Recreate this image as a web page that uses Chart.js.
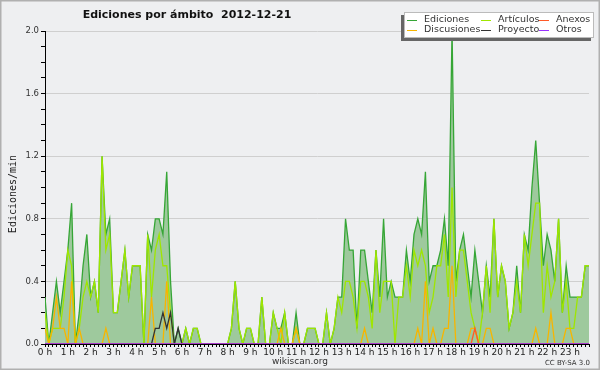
<!DOCTYPE html>
<html>
<head>
<meta charset="utf-8">
<script src="https://cdn.jsdelivr.net/npm/chart.js@4/dist/chart.umd.min.js"></script>
<style>
html,body{margin:0;padding:0;background:#eeeff1;}
canvas{display:block;}
</style>
</head>
<body>
<canvas id="c" width="600" height="370"></canvas>
<script>
// 10-minute slots, 0 h .. 23 h 50
const slotsPerHour = 6;
const seriesNames = ["Ediciones", "Artículos", "Anexos", "Discusiones", "Proyecto", "Otros"];
const yTickLabels = ["0.0", "0.4", "0.8", "1.2", "1.6", "2.0"];

const ediciones = [
  0.3,0.0,0.2,0.4,0.2,0.4, 0.6,0.9,0.0,0.2,0.5,0.7, 0.3,0.4,0.2,1.2,0.7,0.8,
  0.2,0.2,0.4,0.6,0.3,0.5, 0.5,0.5,0.0,0.7,0.6,0.8, 0.8,0.7,1.1,0.4,0.0,0.1,
  0.0,0.1,0.0,0.1,0.1,0.0, 0.0,0.0,0.0,0.0,0.0,0.0, 0.0,0.1,0.4,0.1,0.0,0.1,
  0.1,0.0,0.0,0.3,0.0,0.0, 0.2,0.1,0.1,0.2,0.0,0.0, 0.2,0.0,0.0,0.1,0.1,0.1,
  0.0,0.0,0.2,0.0,0.1,0.3, 0.3,0.8,0.6,0.6,0.1,0.6, 0.6,0.4,0.2,0.6,0.3,0.8,
  0.3,0.4,0.3,0.3,0.3,0.6, 0.4,0.7,0.8,0.7,1.1,0.4, 0.5,0.5,0.6,0.8,0.5,2.0,
  0.4,0.6,0.7,0.5,0.3,0.6, 0.4,0.2,0.5,0.3,0.8,0.3, 0.5,0.4,0.1,0.2,0.5,0.2,
  0.7,0.6,1.0,1.3,0.9,0.5, 0.7,0.6,0.4,0.8,0.2,0.5, 0.3,0.3,0.3,0.3,0.5,0.5
];
const articulos = [
  0.2,0.0,0.1,0.1,0.1,0.3, 0.6,0.5,0.0,0.1,0.3,0.4, 0.3,0.4,0.2,1.2,0.6,0.7,
  0.2,0.2,0.4,0.6,0.3,0.5, 0.5,0.5,0.0,0.7,0.3,0.6, 0.7,0.5,0.5,0.2,0.0,0.0,
  0.0,0.1,0.0,0.1,0.1,0.0, 0.0,0.0,0.0,0.0,0.0,0.0, 0.0,0.1,0.4,0.1,0.0,0.1,
  0.1,0.0,0.0,0.3,0.0,0.0, 0.2,0.1,0.0,0.2,0.0,0.0, 0.1,0.0,0.0,0.1,0.1,0.1,
  0.0,0.0,0.2,0.0,0.1,0.3, 0.2,0.4,0.4,0.3,0.1,0.4, 0.4,0.3,0.1,0.6,0.2,0.4,
  0.4,0.4,0.0,0.3,0.3,0.5, 0.3,0.6,0.5,0.6,0.5,0.2, 0.3,0.5,0.5,0.7,0.3,1.0,
  0.3,0.6,0.6,0.4,0.2,0.1, 0.0,0.2,0.5,0.2,0.8,0.3, 0.5,0.4,0.1,0.2,0.4,0.2,
  0.7,0.5,0.7,0.9,0.9,0.2, 0.5,0.3,0.4,0.8,0.2,0.4, 0.1,0.1,0.3,0.3,0.5,0.5
];
const anexos = [
  0,0,0,0,0,0, 0,0,0,0,0,0, 0,0,0,0,0,0,
  0,0,0,0,0,0, 0,0,0,0,0,0, 0,0,0,0,0,0,
  0,0,0,0,0,0, 0,0,0,0,0,0, 0,0,0,0,0,0,
  0,0,0,0,0,0, 0,0,0,0,0,0, 0,0,0,0,0,0,
  0,0,0,0,0,0, 0,0,0,0,0,0, 0,0,0,0,0,0,
  0,0,0,0,0,0, 0,0,0,0,0,0, 0,0,0,0,0,0,
  0,0,0,0,0,0.1, 0,0,0,0,0,0, 0,0,0,0,0,0,
  0,0,0,0,0,0, 0,0,0,0,0,0, 0,0,0,0,0,0
];
const discusiones = [
  0.1,0.0,0.1,0.3,0.1,0.1, 0.0,0.4,0.0,0.1,0.0,0.0, 0.0,0.0,0.0,0.0,0.1,0.0,
  0,0,0,0,0,0, 0,0,0,0,0.3,0, 0,0,0.4,0,0,0,
  0,0,0,0,0,0, 0,0,0,0,0,0, 0,0,0,0,0,0,
  0,0,0,0,0,0, 0,0,0.1,0,0,0, 0.1,0,0,0,0,0,
  0,0,0,0,0,0, 0,0,0,0,0,0, 0.1,0,0,0,0,0,
  0,0,0,0,0,0, 0,0,0.1,0,0.4,0, 0.1,0,0,0.1,0.1,0.5,
  0,0,0,0,0.1,0.1, 0,0,0.1,0.1,0,0, 0,0,0,0,0,0,
  0,0,0,0.1,0,0, 0,0.2,0,0,0,0.1, 0.1,0,0,0,0,0
];
const proyecto = [
  0,0,0,0,0,0, 0,0,0,0,0,0, 0,0,0,0,0,0,
  0,0,0,0,0,0, 0,0,0,0,0,0.1, 0.1,0.2,0.1,0.2,0,0.1,
  0,0,0,0,0,0, 0,0,0,0,0,0, 0,0,0,0,0,0,
  0,0,0,0,0,0, 0,0,0,0,0,0, 0,0,0,0,0,0,
  0,0,0,0,0,0, 0,0,0,0,0,0, 0,0,0,0,0,0,
  0,0,0,0,0,0, 0,0,0,0,0,0, 0,0,0,0,0,0,
  0,0,0,0,0,0, 0,0,0,0,0,0, 0,0,0,0,0,0,
  0,0,0,0,0,0, 0,0,0,0,0,0, 0,0,0,0,0,0
];
const otros = [
  0,0,0,0,0,0, 0,0,0,0,0,0, 0,0,0,0,0,0,
  0,0,0,0,0,0, 0,0,0,0,0,0, 0,0,0,0,0,0,
  0,0,0,0,0,0, 0,0,0,0,0,0, 0,0,0,0,0,0,
  0,0,0,0,0,0, 0,0,0,0,0,0, 0,0,0,0,0,0,
  0,0,0,0,0,0, 0,0,0,0,0,0, 0,0,0,0,0,0,
  0,0,0,0,0,0, 0,0,0,0,0,0, 0,0,0,0,0,0,
  0,0,0,0,0,0, 0,0,0,0,0,0, 0,0,0,0,0,0,
  0,0,0,0,0,0, 0,0,0,0,0,0, 0,0,0,0,0,0
];

const BG = '#eeeff1';
const toPts = arr => arr.map((v, i) => ({x: i, y: v}));

function ds(label, data, color, order, extra) {
  return Object.assign({
    label, data: toPts(data), borderColor: color, backgroundColor: color,
    borderWidth: 1.3, pointRadius: 0, tension: 0, fill: false, order
  }, extra || {});
}

const datasets = [
  ds(seriesNames[0], ediciones, '#36a636', 6, {fill: 'origin', backgroundColor: '#9ec99d'}),
  ds(seriesNames[1], articulos, '#9fe600', 5),
  ds(seriesNames[2], anexos, '#ff5a28', 2),
  ds(seriesNames[3], discusiones, '#f7b500', 4),
  ds(seriesNames[4], proyecto, '#333333', 3),
  ds(seriesNames[5], otros, '#9933ff', 1)
];

const decor = {
  id: 'decor',
  beforeDraw(chart) {
    const c = chart.ctx;
    c.save();
    c.fillStyle = BG;
    c.fillRect(0, 0, chart.width, chart.height);
    c.restore();
  },
  afterDraw(chart) {
    const c = chart.ctx;
    c.save();
    // frame
    c.strokeStyle = '#b0b0b0';
    c.lineWidth = 1.5;
    c.strokeRect(0.75, 0.75, chart.width - 1.5, chart.height - 1.5);
    // title
    c.fillStyle = '#111';
    c.font = 'bold 11px "DejaVu Sans"';
    c.textAlign = 'center';
    c.textBaseline = 'alphabetic';
    c.fillText('Ediciones por ámbito  2012-12-21', 187, 18);
    // y title
    c.save();
    c.translate(13, 194);
    c.rotate(-Math.PI / 2);
    c.font = '10px "DejaVu Sans Mono"';
    c.fillStyle = '#222';
    c.textAlign = 'center';
    c.textBaseline = 'middle';
    c.fillText('Ediciones/min', 0, 0);
    c.restore();
    // footer
    c.font = '9px "DejaVu Sans"';
    c.fillStyle = '#333';
    c.textAlign = 'center';
    c.fillText('wikiscan.org', 300, 364);
    c.font = '7px "DejaVu Sans"';
    c.textAlign = 'right';
    c.fillText('CC BY-SA 3.0', 590, 365);
    // legend
    const bx = 404, by = 12, bw = 190, bh = 26;
    c.fillStyle = '#666';
    c.fillRect(bx - 3, by + 3, bw, bh);
    c.fillStyle = '#ffffff';
    c.fillRect(bx, by, bw, bh);
    c.strokeStyle = '#bbbbbb';
    c.lineWidth = 1;
    c.strokeRect(bx + 0.5, by + 0.5, bw - 1, bh - 1);
    const colX = [407, 481, 539];
    const rowY = [19.5, 30];
    c.font = '9.5px "DejaVu Sans"';
    c.textAlign = 'left';
    c.textBaseline = 'middle';
    chart.data.datasets.forEach((d, i) => {
      const col = i % 3, row = Math.floor(i / 3);
      const x = colX[col], y = rowY[row];
      c.strokeStyle = d.borderColor;
      c.lineWidth = 1;
      c.beginPath();
      c.moveTo(x, Math.round(y) + 0.5);
      c.lineTo(x + 10, Math.round(y) + 0.5);
      c.stroke();
      c.fillStyle = '#333';
      c.fillText(d.label, x + 17, y);
    });
    c.restore();
  }
};

new Chart(document.getElementById('c'), {
  type: 'line',
  data: {datasets},
  options: {
    responsive: false,
    devicePixelRatio: 1,
    animation: false,
    layout: {padding: {left: 0, top: 31, right: 11, bottom: 0}},
    plugins: {legend: {display: false}, tooltip: {enabled: false}, title: {display: false}},
    scales: {
      x: {
        type: 'linear', min: 0, max: 143, z: 1,
        afterFit(s) { s.height = 26; },
        border: {display: true, color: '#000', width: 1},
        grid: {drawOnChartArea: false, drawTicks: true, tickLength: 3, color: '#000', tickWidth: 1},
        ticks: {
          stepSize: 1, autoSkip: false, maxRotation: 0, minRotation: 0, padding: 0,
          color: '#222', font: {family: 'DejaVu Sans', size: 9},
          callback: v => (v % slotsPerHour === 0 ? (v / slotsPerHour) + ' h' : '')
        }
      },
      y: {
        type: 'linear', min: 0, max: 2, z: 1,
        afterFit(s) { s.width = 45; },
        border: {display: true, color: '#000', width: 1},
        grid: {
          drawTicks: true, tickLength: 4,
          color: ctx => {
            const v = ctx.tick ? ctx.tick.value : 0;
            const k = Math.round(v * 10);
            return (k % 4 === 0 && k > 0) ? '#cfcfcf' : 'rgba(0,0,0,0)';
          },
          tickColor: '#000', lineWidth: 1
        },
        ticks: {
          stepSize: 0.1, autoSkip: false, padding: 2,
          color: '#333', font: {family: 'DejaVu Sans', size: 8.5},
          callback: v => {
            const k = Math.round(v * 10);
            return k % 4 === 0 ? yTickLabels[k / 4] : '';
          }
        }
      }
    }
  },
  plugins: [decor]
});
</script>
</body>
</html>
